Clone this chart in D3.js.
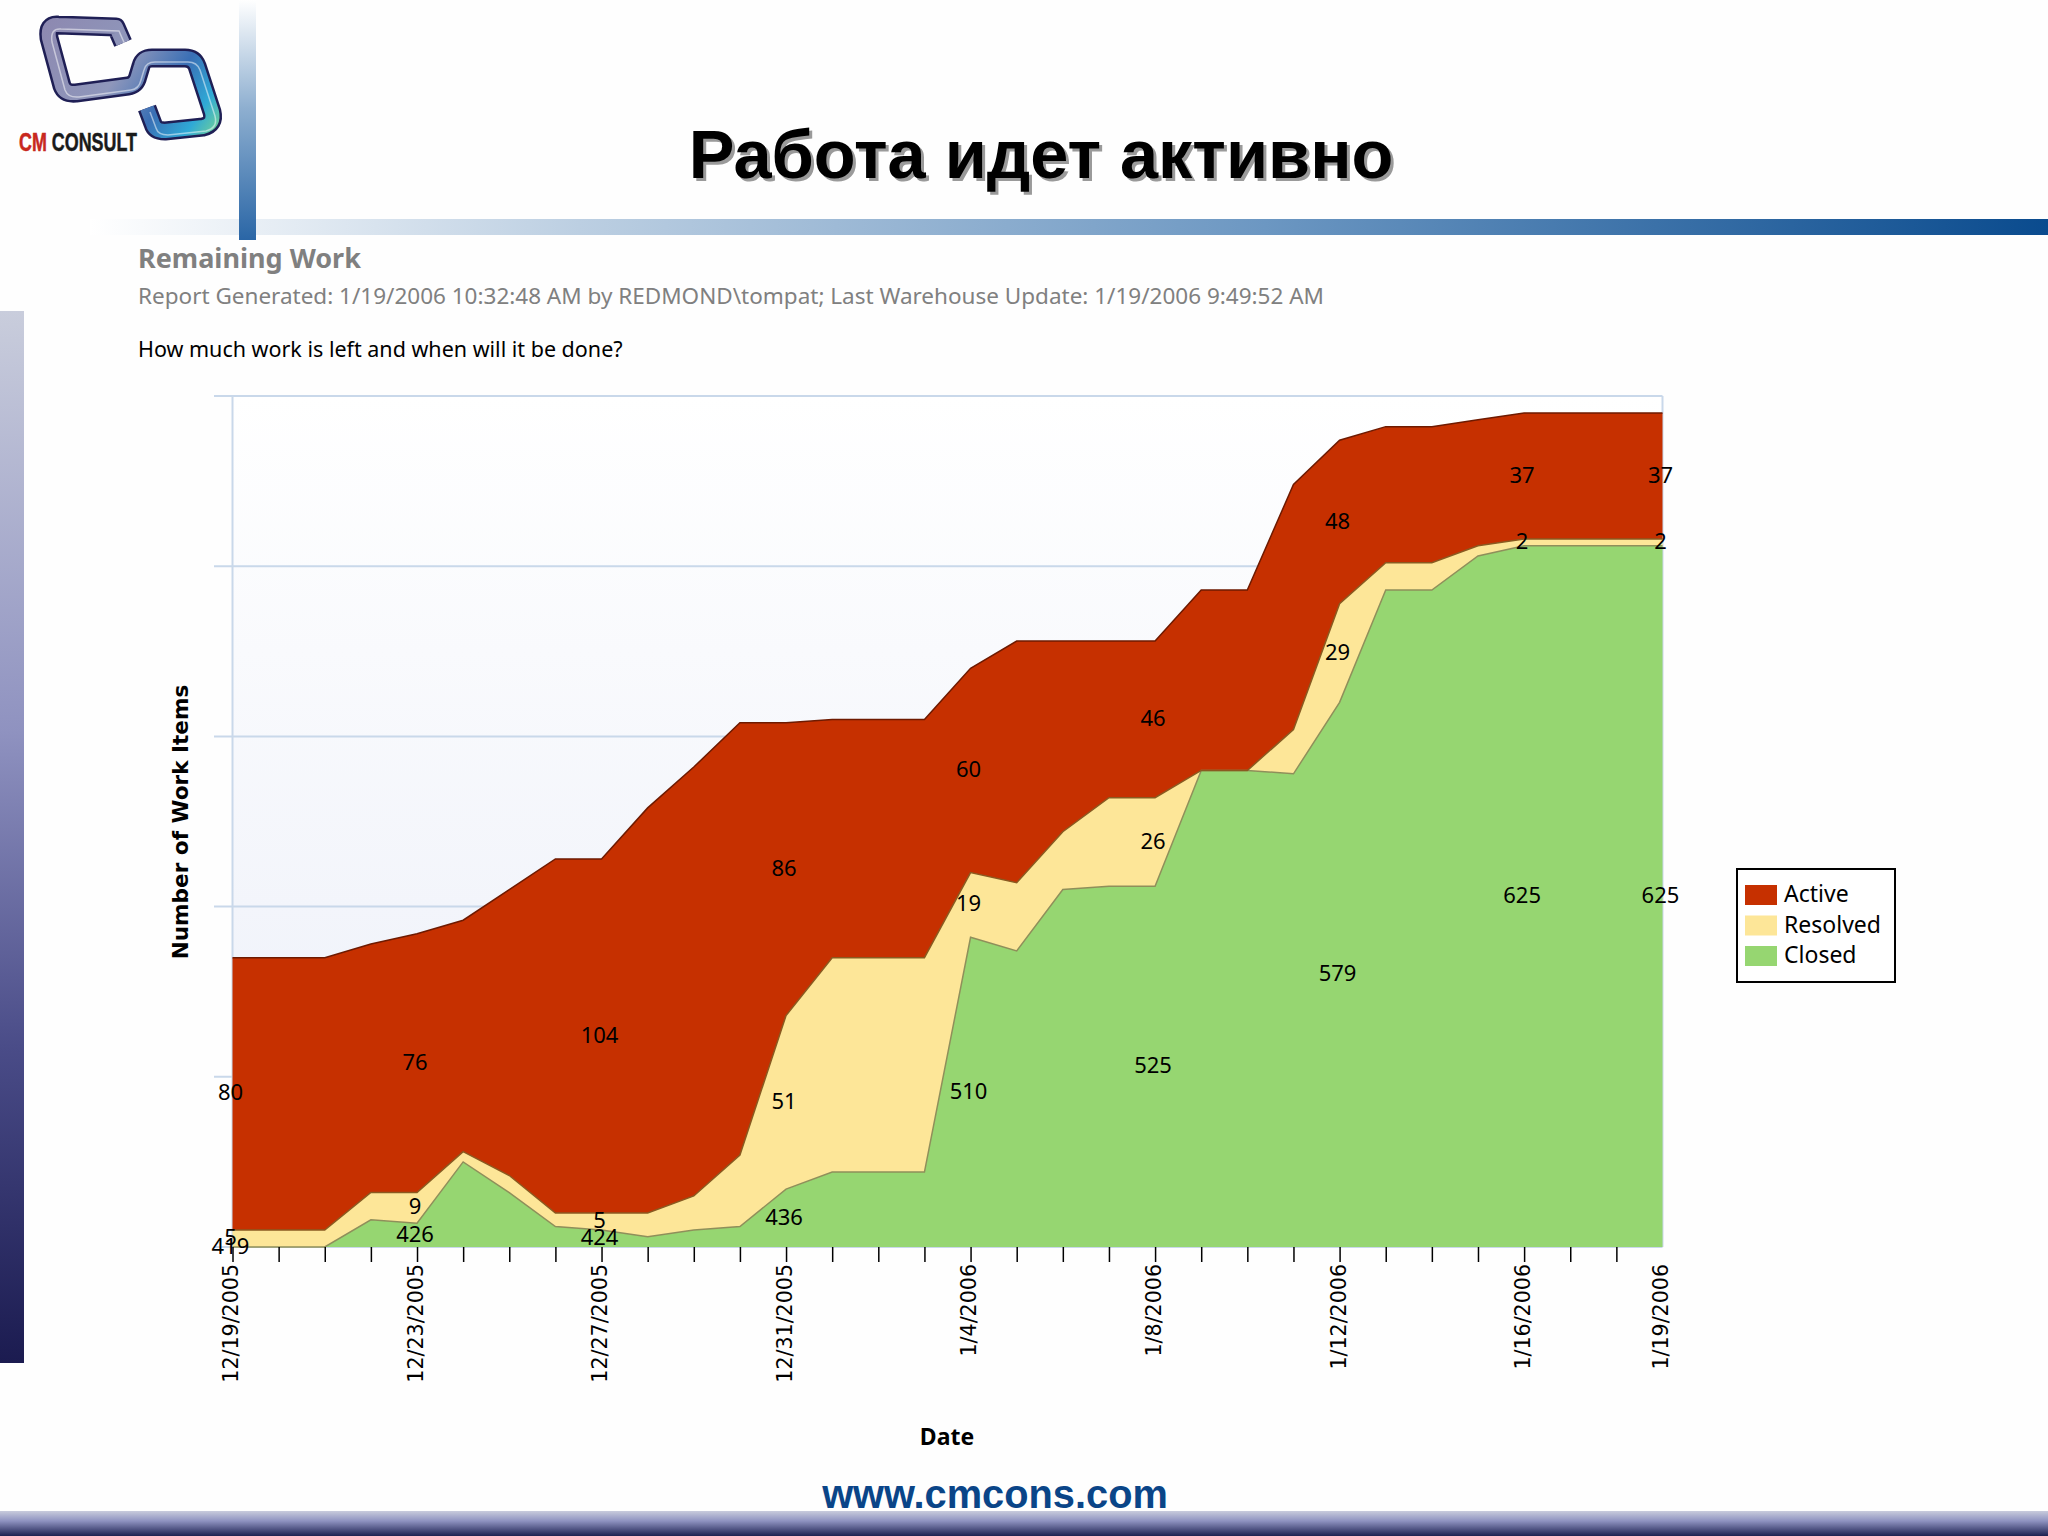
<!DOCTYPE html>
<html>
<head>
<meta charset="utf-8">
<title>Remaining Work</title>
<script src="https://d3js.org/d3.v7.min.js"></script>
<style>
html, body { margin: 0; padding: 0; background: #fff; }
svg { display: block; }
text { font-family: "Noto Sans", sans-serif; }
</style>
</head>
<body>
<script>
//one entry per day
var dates = ["12/19/2005","12/20/2005","12/21/2005","12/22/2005","12/23/2005","12/24/2005","12/25/2005","12/26/2005",
    "12/27/2005","12/28/2005","12/29/2005","12/30/2005","12/31/2005","1/1/2006","1/2/2006","1/3/2006",
    "1/4/2006","1/5/2006","1/6/2006","1/7/2006","1/8/2006","1/9/2006","1/10/2006","1/11/2006",
    "1/12/2006","1/13/2006","1/14/2006","1/15/2006","1/16/2006","1/17/2006","1/18/2006","1/19/2006"];

//values, printed ones are exact
var closedItems   = [419,419,419,427,426,444,435,425,424,422,424,425,436,441,441,441,510,506,524,525,525,559,559,558,579,612,612,622,625,625,625,625];
var resolvedItems = [5,5,5,8,9,3,5,4,5,7,10,21,51,63,63,63,19,20,17,26,26,0,0,13,29,8,8,3,2,2,2,2];
var activeItems   = [80,80,80,73,76,68,84,104,104,119,126,127,86,70,70,70,60,71,56,46,46,53,53,72,48,40,40,37,37,37,37,37];

var seriesNames = ["Closed", "Resolved", "Active"];
var legendNames = ["Active", "Resolved", "Closed"];
var seriesColors = { Active: "#c63000", Resolved: "#fde698", Closed: "#96d671" };
var seriesEdges = { Active: "#6e1a00", Resolved: "#8a5a20", Closed: "#8f8f5a" };

//only these days get an axis label and value labels
var labeledDates = ["12/19/2005","12/23/2005","12/27/2005","12/31/2005","1/4/2006","1/8/2006","1/12/2006","1/16/2006","1/19/2006"];
var gridValues = [419, 469, 519, 569, 619, 669];

window.onload = function(){

    var w = 2048, h = 1536;

    var container = d3.select("body")
        .append("svg")
        .attr("width", w)
        .attr("height", h)
        .style("background-color", "#fefefe");

    var defs = container.append("defs");

    //helper for the slide gradients
    function gradient(id, x2, y2, stops){
        var g = defs.append("linearGradient")
            .attr("id", id)
            .attr("x1", 0).attr("y1", 0)
            .attr("x2", x2).attr("y2", y2);
        stops.forEach(function(s){
            g.append("stop").attr("offset", s[0]).attr("stop-color", s[1]);
        });
    }
    gradient("headerBar", 1, 0, [[0, "#ffffff"], [0.25, "#bccfe2"], [0.6, "#6c97c2"], [1, "#0a4b8e"]]);
    gradient("headerPost", 0, 1, [[0, "#ffffff"], [0.45, "#8eafd0"], [1, "#2a66a6"]]);
    gradient("sideBar", 0, 1, [[0, "#c9cddc"], [0.4, "#8f92c0"], [0.7, "#4a4c88"], [1, "#1b1b50"]]);
    gradient("footBar", 0, 1, [[0, "#c8cbdc"], [0.4, "#8e92c0"], [1, "#1c2050"]]);
    gradient("plotBg", 0, 1, [[0, "#ffffff"], [0.6, "#f3f5fb"], [1, "#e8eef8"]]);
    defs.append("linearGradient")
        .attr("id", "logoGrad")
        .attr("gradientUnits", "userSpaceOnUse")
        .attr("x1", 40).attr("y1", 20)
        .attr("x2", 215).attr("y2", 135)
        .selectAll("stop")
        .data([[0, "#8d88b0"], [0.45, "#8f97bb"], [0.7, "#3a6fb5"], [0.88, "#2fa9d6"], [1, "#6fcf9a"]])
        .enter()
        .append("stop")
        .attr("offset", function(d){ return d[0]; })
        .attr("stop-color", function(d){ return d[1]; });

    //slide decoration
    container.append("rect").attr("x", 90).attr("y", 219).attr("width", 1958).attr("height", 16).style("fill", "url(#headerBar)");
    container.append("rect").attr("x", 239).attr("y", 0).attr("width", 17).attr("height", 240).style("fill", "url(#headerPost)");
    container.append("rect").attr("x", 0).attr("y", 311).attr("width", 24).attr("height", 1052).style("fill", "url(#sideBar)");
    container.append("rect").attr("x", 0).attr("y", 1511).attr("width", 2048).attr("height", 25).style("fill", "url(#footBar)");

    //logo, one folded ribbon
    var logoPath = "M123,43 L116,27 L58,25 Q47,24 49,38 L62,86 Q65,94 76,93 L128,86 Q136,85 138,76 L141,66 Q143,58 152,58 L185,58 Q194,58 197,66 L212,112 Q215,124 203,127 L165,131 Q155,131 153,124 L147,108";
    container.append("path").attr("d", logoPath).style("fill", "none").style("stroke", "#1f1f55").style("stroke-width", 19).style("stroke-linejoin", "round");
    container.append("path").attr("d", logoPath).style("fill", "none").style("stroke", "url(#logoGrad)").style("stroke-width", 14).style("stroke-linejoin", "round");
    container.append("path").attr("d", logoPath).attr("transform", "translate(3,4)").style("fill", "none").style("stroke", "#ffffff").style("stroke-opacity", 0.5).style("stroke-width", 1.5);

    var logoText = container.append("text")
        .attr("x", 19)
        .attr("y", 151)
        .attr("textLength", 118)
        .attr("lengthAdjust", "spacingAndGlyphs")
        .style("font-family", "'Liberation Sans Narrow', 'Liberation Sans'")
        .style("font-weight", "bold")
        .style("font-size", "25px")
        .style("stroke-width", 0.5);
    logoText.append("tspan").style("fill", "#c8281e").style("stroke", "#c8281e").text("CM ");
    logoText.append("tspan").style("fill", "#1a1a1a").style("stroke", "#1a1a1a").text("CONSULT");

    //title with its shadow
    [["#9a9a9a", 3, 3], ["#000000", 0, 0]].forEach(function(t){
        container.append("text")
            .attr("x", 1041 + t[1])
            .attr("y", 178 + t[2])
            .attr("text-anchor", "middle")
            .style("font-family", "'Liberation Sans'")
            .style("font-weight", "bold")
            .style("font-size", "68.5px")
            .style("fill", t[0])
            .text("Работа идет активно");
    });

    //report header
    container.append("text").attr("x", 138).attr("y", 268)
        .style("font-size", "27px").style("font-weight", "bold").style("fill", "#808080")
        .text("Remaining Work");
    container.append("text").attr("x", 138).attr("y", 304)
        .style("font-size", "22.5px").style("fill", "#808080")
        .text("Report Generated: 1/19/2006 10:32:48 AM by REDMOND\\tompat; Last Warehouse Update: 1/19/2006 9:49:52 AM");
    container.append("text").attr("x", 138).attr("y", 357)
        .style("font-size", "21.5px").style("fill", "#000")
        .text("How much work is left and when will it be done?");

    container.append("text")
        .attr("x", 995)
        .attr("y", 1508)
        .attr("text-anchor", "middle")
        .style("font-family", "'Liberation Sans'")
        .style("font-weight", "bold")
        .style("font-size", "39.8px")
        .style("fill", "#0a4588")
        .text("www.cmcons.com");

    //scales
    var x = d3.scalePoint()
        .domain(dates)
        .range([232.5, 1662.5]);

    var y = d3.scaleLinear()
        .domain([419, 669])
        .range([1247, 396])
        .clamp(true);

    //table for the stack
    var table = dates.map(function(d, i){
        return { date: d, Closed: closedItems[i], Resolved: resolvedItems[i], Active: activeItems[i] };
    });
    var stacked = d3.stack().keys(seriesNames)(table);

    //plot background
    container.append("rect")
        .attr("x", x.range()[0])
        .attr("y", y.range()[1])
        .attr("width", x.range()[1] - x.range()[0])
        .attr("height", y.range()[0] - y.range()[1])
        .style("fill", "url(#plotBg)");

    //grid
    container.selectAll(".grid")
        .data(gridValues)
        .enter()
        .append("line")
        .attr("class", "grid")
        .attr("x1", 214)
        .attr("x2", x.range()[1])
        .attr("y1", function(d){ return y(d); })
        .attr("y2", function(d){ return y(d); })
        .style("stroke", "#c9d8ea")
        .style("stroke-width", 2);

    container.append("line")
        .attr("x1", x.range()[0]).attr("x2", x.range()[0])
        .attr("y1", y.range()[1]).attr("y2", y.range()[0])
        .style("stroke", "#c9d8ea").style("stroke-width", 2);
    container.append("line")
        .attr("x1", x.range()[1]).attr("x2", x.range()[1])
        .attr("y1", y.range()[1]).attr("y2", y.range()[0])
        .style("stroke", "#c9d8ea").style("stroke-width", 2);

    //bands
    var area = d3.area()
        .x(function(d){ return x(d.data.date); })
        .y0(function(d){ return y(d[0]); })
        .y1(function(d){ return y(d[1]); });

    var edge = d3.line()
        .x(function(d){ return x(d.data.date); })
        .y(function(d){ return y(d[1]); });

    container.selectAll(".band")
        .data(stacked)
        .enter()
        .append("path")
        .attr("class", "band")
        .attr("d", area)
        .style("fill", function(d){ return seriesColors[d.key]; });

    container.selectAll(".edge")
        .data(stacked)
        .enter()
        .append("path")
        .attr("class", "edge")
        .attr("d", edge)
        .style("fill", "none")
        .style("stroke", function(d){ return seriesEdges[d.key]; })
        .style("stroke-width", 1.5);

    //x axis: a tick for every day
    var xAxis = d3.axisBottom(x)
        .tickSize(15)
        .tickPadding(3)
        .tickFormat(function(d){ return labeledDates.indexOf(d) >= 0 ? d : ""; });

    var axis = container.append("g")
        .attr("class", "axis")
        .attr("transform", "translate(0," + y.range()[0] + ")")
        .call(xAxis);
    axis.select(".domain").remove();
    axis.selectAll("line").style("stroke", "#000").style("stroke-width", 1.5);
    //the last day has its label but no tick mark
    axis.selectAll(".tick")
        .filter(function(d){ return d === dates[dates.length - 1]; })
        .select("line")
        .remove();
    axis.selectAll("text")
        .attr("transform", "rotate(-90)")
        .attr("x", -17)
        .attr("y", -2)
        .attr("dy", "0.36em")
        .style("text-anchor", "end")
        .style("font-family", "'DejaVu Sans'")
        .style("font-size", "20.6px")
        .style("fill", "#000");

    //value labels in the middle of each band
    stacked.forEach(function(s){
        var labelRows = s.filter(function(d){ return labeledDates.indexOf(d.data.date) >= 0; });
        container.selectAll(".label" + s.key)
            .data(labelRows)
            .enter()
            .append("text")
            .attr("class", "label" + s.key)
            .attr("x", function(d){ return x(d.data.date) - 2; })
            .attr("y", function(d){ return y((Math.max(d[0], y.domain()[0]) + d[1]) / 2); })
            .attr("dy", "0.3em")
            .attr("text-anchor", "middle")
            .style("font-size", "22px")
            .style("fill", "#000")
            .text(function(d){ return d[1] - d[0]; });
    });

    //axis titles
    container.append("text")
        .attr("transform", "translate(180,822) rotate(-90)")
        .attr("text-anchor", "middle")
        .attr("dy", "0.36em")
        .style("font-family", "'DejaVu Sans'")
        .style("font-weight", "bold")
        .style("font-size", "21.6px")
        .text("Number of Work Items");
    container.append("text")
        .attr("x", 947)
        .attr("y", 1445)
        .attr("text-anchor", "middle")
        .style("font-weight", "bold")
        .style("font-size", "23px")
        .text("Date");

    //legend
    var legend = container.append("g").attr("transform", "translate(1737,869)");
    legend.append("rect")
        .attr("width", 158)
        .attr("height", 113)
        .style("fill", "#fff")
        .style("stroke", "#000")
        .style("stroke-width", 2);
    var rowY = d3.scalePoint().domain(legendNames).range([16, 77]);
    var rows = legend.selectAll(".legendRow")
        .data(legendNames)
        .enter()
        .append("g")
        .attr("class", "legendRow")
        .attr("transform", function(d){ return "translate(8," + rowY(d) + ")"; });
    rows.append("rect")
        .attr("width", 32)
        .attr("height", 20)
        .style("fill", function(d){ return seriesColors[d]; });
    rows.append("text")
        .attr("x", 39)
        .attr("y", 9)
        .attr("dy", "0.36em")
        .style("font-size", "23px")
        .text(function(d){ return d; });
};
</script>
</body>
</html>
